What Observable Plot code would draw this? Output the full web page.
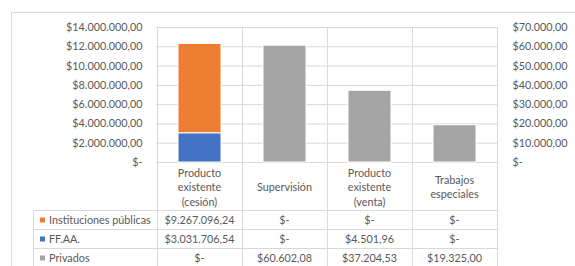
<!DOCTYPE html>
<html><head><meta charset="utf-8">
<script src="https://cdn.jsdelivr.net/npm/d3@7"></script>
<script src="https://cdn.jsdelivr.net/npm/@observablehq/plot@0.6"></script>
<style>
html,body{margin:0;padding:0;background:#fff;}
#chart{position:relative;width:575px;height:266px;overflow:hidden;}
</style></head><body><div id="chart"></div>
<script>
const categories = ["Producto existente (cesión)", "Supervisión", "Producto existente (venta)", "Trabajos especiales"];
const categoryLines = [["Producto","existente","(cesión)"], ["Supervisión"], ["Producto","existente","(venta)"], ["Trabajos","especiales"]];
const seriesNames = ["Instituciones públicas", "FF.AA.", "Privados"];
const seriesColors = ["#ED7D31", "#4472C4", "#A5A5A5"];
const instituciones = [9267096.24, 0, 0, 0];
const ffaa = [3031706.54, 0, 4501.96, 0];
const privados = [0, 60602.08, 37204.53, 19325.00];
const primaryTicks = [0, 2000000, 4000000, 6000000, 8000000, 10000000, 12000000, 14000000];
const primaryMax = 14000000;
const secondaryMax = 70000;

(function () {
const loc = d3.formatLocale({decimal: ",", thousands: ".", grouping: [3], currency: ["$", ""]});
const fmt = loc.format("$,.2f");
const money = v => Math.abs(v) < 1e-9 ? "$-" : fmt(v);
const k = primaryMax / secondaryMax;

const primary = [];
categories.forEach((c, i) => primary.push({cat: c, series: "FF.AA.", value: ffaa[i]}));
categories.forEach((c, i) => primary.push({cat: c, series: "Instituciones públicas", value: instituciones[i]}));
const secondary = categories.map((c, i) => ({cat: c, series: "Privados", value: privados[i] * k}));

const W = 575, H = 266;
const grid = "#d9d9d9", textColor = "#595959";
const plot = Plot.plot({
  width: W, height: H,
  marginTop: 27, marginBottom: 104, marginLeft: 156, marginRight: 77,
  style: {fontFamily: "Lato, sans-serif", fontSize: "10.8px", color: textColor, background: "white"},
  x: {type: "band", domain: categories, paddingInner: 0.5, paddingOuter: 0.25, axis: null},
  y: {domain: [0, primaryMax], axis: null},
  color: {domain: seriesNames, range: seriesColors},
  marks: [
    Plot.ruleY(primaryTicks, {stroke: grid, strokeWidth: 1}),
    Plot.barY(primary, {x: "cat", y: "value", fill: "series", stroke: "white", strokeWidth: 1}),
    Plot.barY(secondary, {x: "cat", y: "value", fill: "series", stroke: "white", strokeWidth: 1}),
    Plot.axisY(primaryTicks, {anchor: "left", label: null, tickSize: 0, tickPadding: 14, tickFormat: money, fill: textColor}),
    Plot.axisY(primaryTicks, {anchor: "right", label: null, tickSize: 0, tickPadding: 14, tickFormat: d => money(d / k), fill: textColor})
  ]
});

const svg = d3.select(plot);
const xs = plot.scale("x"), ys = plot.scale("y");
const bw = xs.bandwidth, step = xs.step;
const centers = categories.map(c => xs.apply(c) + bw / 2);
const bounds = [centers[0] - step / 2, ...centers.map(c => c + step / 2)];
const yTop = ys.apply(primaryMax), base = ys.apply(0);
const headerBottom = 210.5, rowH = 19, tableLeft = 33.5;
const g = svg.append("g").attr("font-family", "Lato, sans-serif").attr("font-size", "10.8px").attr("fill", textColor).attr("text-anchor", "start");

g.append("line").attr("x1", 11.5).attr("x2", W).attr("y1", 12.5).attr("y2", 12.5).attr("stroke", grid);
g.append("line").attr("x1", 11.5).attr("x2", 11.5).attr("y1", 12.5).attr("y2", H).attr("stroke", grid);

bounds.forEach(b => {
  const xb = Math.round(b) + 0.5;
  g.append("line").attr("x1", xb).attr("x2", xb).attr("y1", yTop).attr("y2", H).attr("stroke", grid);
});
for (let r = 0; r < 3; r++) {
  const yl = headerBottom + r * rowH;
  g.append("line").attr("x1", tableLeft).attr("x2", Math.round(bounds[4]) + 0.5).attr("y1", yl).attr("y2", yl).attr("stroke", grid);
}
g.append("line").attr("x1", tableLeft).attr("x2", tableLeft).attr("y1", headerBottom).attr("y2", H).attr("stroke", grid);

const lineH = 14.5, headerMid = (base + headerBottom) / 2 + 1;
categoryLines.forEach((lines, i) => {
  const t = g.append("text").attr("text-anchor", "middle");
  lines.forEach((ln, j) => {
    t.append("tspan").attr("x", centers[i]).attr("y", headerMid + (j - (lines.length - 1) / 2) * lineH).attr("dy", "0.35em").text(ln);
  });
});

const rows = [instituciones, ffaa, privados];
rows.forEach((vals, r) => {
  const cy = headerBottom + r * rowH + rowH / 2;
  g.append("rect").attr("x", 40).attr("y", cy - 2.5).attr("width", 5).attr("height", 5).attr("fill", seriesColors[r]);
  g.append("text").attr("x", 49).attr("y", cy).attr("dy", "0.35em").attr("text-anchor", "start").text(seriesNames[r]);
  vals.forEach((v, i) => {
    g.append("text").attr("x", centers[i]).attr("y", cy).attr("dy", "0.35em").attr("text-anchor", "middle").text(money(v));
  });
});

document.getElementById("chart").appendChild(plot);
})();
</script></body></html>
